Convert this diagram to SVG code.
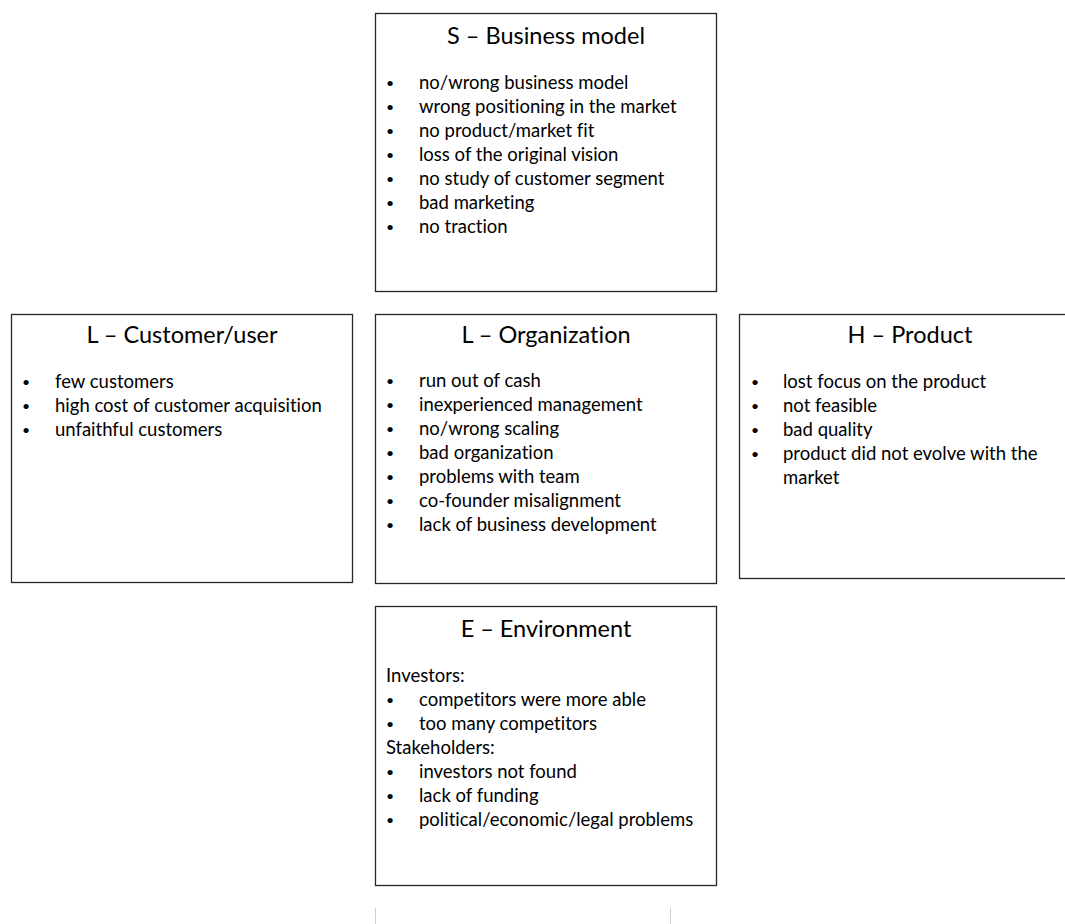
<svg xmlns="http://www.w3.org/2000/svg" width="1065" height="924" viewBox="0 0 1065 924">
<style>
.box{fill:#fff;stroke:#262626;stroke-width:1.3}
.t{font-family:Lato,"Liberation Sans",sans-serif;font-size:23.5px;fill:#000;text-anchor:middle;font-variant-ligatures:none}
.b{font-family:Lato,"Liberation Sans",sans-serif;font-size:18.5px;fill:#000;font-variant-ligatures:none}
.d{font-size:14px}
.faint{stroke:#d0d0d0;stroke-width:1}
</style>
<rect width="1065" height="924" fill="#fff"/>
<g id="connectors"></g>
<g id="business">
<rect class="box" x="375.5" y="13.5" width="341" height="278"/>
<text class="t" x="546" y="44">S – Business model</text>
<g class="b">
<text class="d" x="386" y="88">•</text><text x="419" y="89">no/wrong business model</text>
<text class="d" x="386" y="112">•</text><text x="419" y="113">wrong positioning in the market</text>
<text class="d" x="386" y="136">•</text><text x="419" y="137">no product/market fit</text>
<text class="d" x="386" y="160">•</text><text x="419" y="161">loss of the original vision</text>
<text class="d" x="386" y="184">•</text><text x="419" y="185">no study of customer segment</text>
<text class="d" x="386" y="208">•</text><text x="419" y="209">bad marketing</text>
<text class="d" x="386" y="232">•</text><text x="419" y="233">no traction</text>
</g>
</g>
<g id="customer">
<rect class="box" x="11.5" y="314.5" width="341" height="268"/>
<text class="t" x="182" y="343">L – Customer/user</text>
<g class="b">
<text class="d" x="22" y="387">•</text><text x="55" y="388">few customers</text>
<text class="d" x="22" y="411">•</text><text x="55" y="412">high cost of customer acquisition</text>
<text class="d" x="22" y="435">•</text><text x="55" y="436">unfaithful customers</text>
</g>
</g>
<g id="organization">
<rect class="box" x="375.5" y="314.5" width="341" height="269"/>
<text class="t" x="546" y="343">L – Organization</text>
<g class="b">
<text class="d" x="386" y="386">•</text><text x="419" y="387">run out of cash</text>
<text class="d" x="386" y="410">•</text><text x="419" y="411">inexperienced management</text>
<text class="d" x="386" y="434">•</text><text x="419" y="435">no/wrong scaling</text>
<text class="d" x="386" y="458">•</text><text x="419" y="459">bad organization</text>
<text class="d" x="386" y="482">•</text><text x="419" y="483">problems with team</text>
<text class="d" x="386" y="506">•</text><text x="419" y="507">co-founder misalignment</text>
<text class="d" x="386" y="530">•</text><text x="419" y="531">lack of business development</text>
</g>
</g>
<g id="product">
<rect class="box" x="739.5" y="314.5" width="340" height="264"/>
<text class="t" x="910" y="343">H – Product</text>
<g class="b">
<text class="d" x="751" y="387">•</text><text x="783" y="388">lost focus on the product</text>
<text class="d" x="751" y="411">•</text><text x="783" y="412">not feasible</text>
<text class="d" x="751" y="435">•</text><text x="783" y="436">bad quality</text>
<text class="d" x="751" y="459">•</text><text x="783" y="460">product did not evolve with the</text>
<text x="783" y="484">market</text>
</g>
</g>
<g id="environment">
<rect class="box" x="375.5" y="606.5" width="341" height="279"/>
<text class="t" x="546" y="637">E – Environment</text>
<g class="b">
<text x="386" y="682">Investors:</text>
<text class="d" x="386" y="705">•</text><text x="419" y="706">competitors were more able</text>
<text class="d" x="386" y="729">•</text><text x="419" y="730">too many competitors</text>
<text x="386" y="754">Stakeholders:</text>
<text class="d" x="386" y="777">•</text><text x="419" y="778">investors not found</text>
<text class="d" x="386" y="801">•</text><text x="419" y="802">lack of funding</text>
<text class="d" x="386" y="825">•</text><text x="419" y="826">political/economic/legal problems</text>
</g>
</g>
<g id="bottom-edge">
<line class="faint" x1="375.5" y1="908" x2="375.5" y2="924"/>
<line class="faint" x1="670.5" y1="908" x2="670.5" y2="924"/>
</g>
</svg>
